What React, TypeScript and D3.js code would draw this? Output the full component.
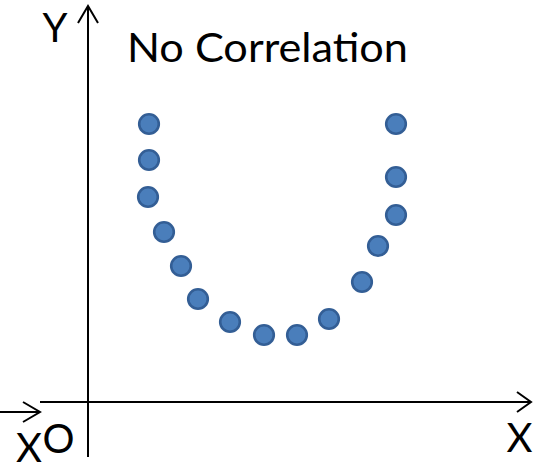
import React from "react";
import * as d3 from "d3";

// Scatter of a U-shaped relationship: x and y values (0–100 units)
const xValues = [15.25, 15.25, 15, 19, 23.25, 27.5, 35.5, 44, 52.25, 60.25, 68.5, 72.5, 77, 77, 77];
const yValues = [69.5, 60.5, 51.25, 42.5, 34, 25.75, 20, 16.75, 16.75, 20.75, 30, 39, 46.75, 56.25, 69.5];

const title = "No Correlation";
const axisLabels = { y: "Y", x: "X", xLeft: "X", origin: "O" };

const W = 533;
const H = 473;
const FONT = "Lato, 'Open Sans', sans-serif";

export default function App() {
  const x = d3.scaleLinear().domain([0, 100]).range([88, 488]);
  const y = d3.scaleLinear().domain([0, 100]).range([402, 2]);

  const points = xValues.map((v, i) => ({ x: v, y: yValues[i] }));

  const x0 = x(0);
  const y0 = y(0);

  const arrowStroke = { stroke: "#000", strokeWidth: 2, fill: "none" };

  return (
    <svg
      width={W}
      height={H}
      style={{ position: "absolute", left: 0, top: 0, background: "#fff" }}
    >
      {/* vertical axis with arrow */}
      <line x1={x0} y1={457} x2={x0} y2={6} {...arrowStroke} />
      <polyline points={`${x0 - 10},23 ${x0},6 ${x0 + 10},23`} {...arrowStroke} />

      {/* horizontal axis with arrow */}
      <line x1={40} y1={y0} x2={530} y2={y0} {...arrowStroke} />
      <polyline points={`517,392 531,${y0} 517,412`} {...arrowStroke} />

      {/* short arrow on the left */}
      <line x1={0} y1={412} x2={40} y2={412} {...arrowStroke} />
      <polyline points={`23,402 40,412 23,422`} {...arrowStroke} />

      {/* labels */}
      <text x={55} y={42} fontFamily={FONT} fontSize={40} textAnchor="middle" fill="#000">
        {axisLabels.y}
      </text>
      <text x={519.5} y={452} fontFamily={FONT} fontSize={40} textAnchor="middle" fill="#000">
        {axisLabels.x}
      </text>
      <text x={29} y={462} fontFamily={FONT} fontSize={40} textAnchor="middle" fill="#000">
        {axisLabels.xLeft}
      </text>
      <text x={58.5} y={453} fontFamily={FONT} fontSize={40} textAnchor="middle" fill="#000">
        {axisLabels.origin}
      </text>

      <text
        x={127}
        y={62}
        fontFamily={FONT}
        fontSize={40}
        textLength={281}
        lengthAdjust="spacingAndGlyphs"
        fill="#000"
      >
        {title}
      </text>

      {/* points */}
      {points.map((p, i) => (
        <circle
          key={i}
          cx={x(p.x)}
          cy={y(p.y)}
          r={9.8}
          fill="#4a7ebb"
          stroke="#335e95"
          strokeWidth={2.6}
        />
      ))}
    </svg>
  );
}
